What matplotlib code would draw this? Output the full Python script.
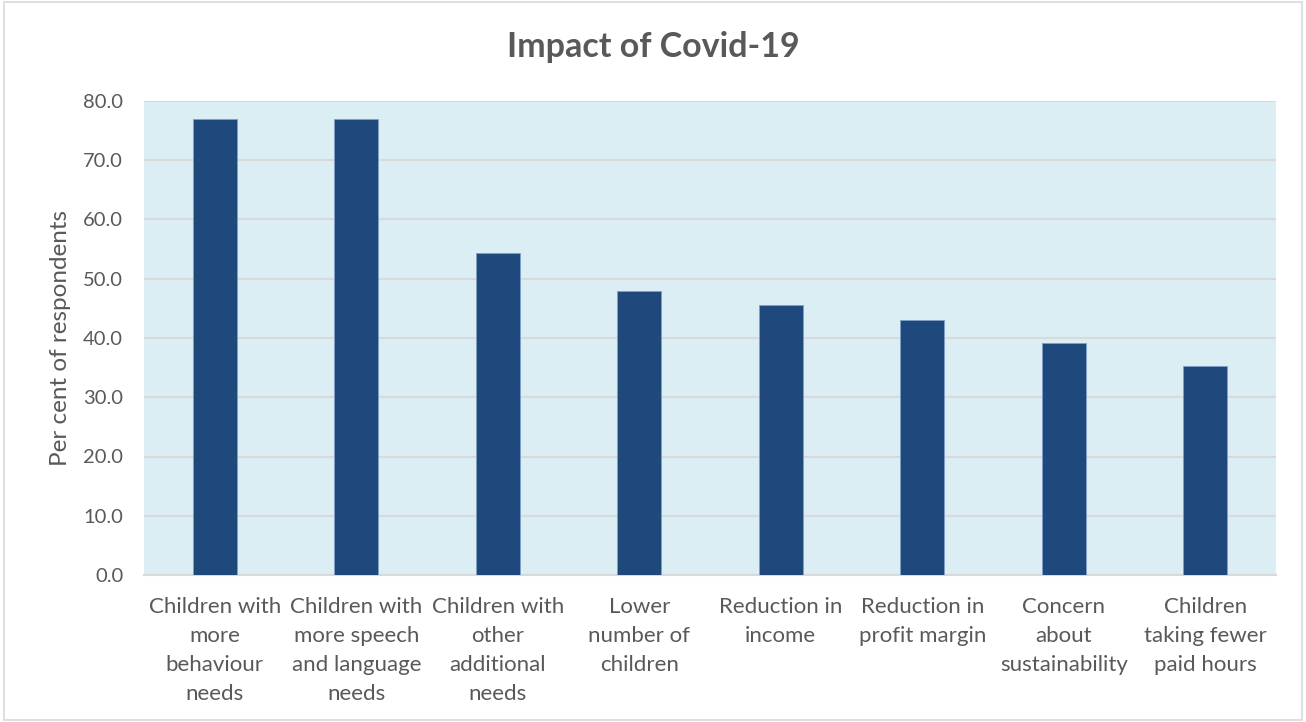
import matplotlib
matplotlib.use("Agg")
import matplotlib.pyplot as plt
from matplotlib.patches import Rectangle

categories = [
    "Children with\nmore\nbehaviour\nneeds",
    "Children with\nmore speech\nand language\nneeds",
    "Children with\nother\nadditional\nneeds",
    "Lower\nnumber of\nchildren",
    "Reduction in\nincome",
    "Reduction in\nprofit margin",
    "Concern\nabout\nsustainability",
    "Children\ntaking fewer\npaid hours",
]
values = [77.0, 77.0, 54.3, 48.0, 45.5, 43.0, 39.2, 35.3]
yticks = [0, 10, 20, 30, 40, 50, 60, 70, 80]

plt.rcParams['font.family'] = ['Lato', 'DejaVu Sans']
W, H = 1306, 722
fig = plt.figure(figsize=(W/100, H/100), dpi=100)
fig.patches.append(Rectangle((4/W, 2/H), (1302-4)/W, (720-2)/H, transform=fig.transFigure,
                             fill=False, edgecolor='#d9d9d9', linewidth=1.2))
ax = fig.add_axes([144/W, 1-575/H, (1276-144)/W, (575-101)/H])
ax.set_facecolor('#dbeef4')
x = list(range(len(categories)))
ax.bar(x, values, width=0.31, color='#1f497d', edgecolor='#7f9fc6', linewidth=0.6, zorder=3)
ax.set_xlim(-0.5, len(categories)-0.5)
ax.set_ylim(0, 80)
ax.set_yticks(yticks)
ax.set_yticklabels([f"{v:.1f}" for v in yticks])
ax.yaxis.grid(True, color='#d9d9d9', linewidth=1.5, zorder=0)
ax.set_axisbelow(True)
for s in ['top', 'right', 'left']:
    ax.spines[s].set_visible(False)
ax.spines['bottom'].set_color('#d9d9d9')
ax.spines['bottom'].set_linewidth(1.5)
ax.set_xticks(x)
ax.set_xticklabels(categories, linespacing=1.56)
ax.tick_params(axis='x', length=0, labelsize=16, colors='#595959', pad=16)
ax.tick_params(axis='y', length=0, labelsize=14.5, colors='#595959', pad=15)
ax.set_ylabel("Per cent of respondents", fontsize=17.5, color='#595959', labelpad=9)
fig.text(0.5, 1-47/H, "Impact of Covid-19", ha='center', va='center', fontsize=24.5,
         fontweight='bold', color='#595959')
fig.savefig("out.png", dpi=100)
